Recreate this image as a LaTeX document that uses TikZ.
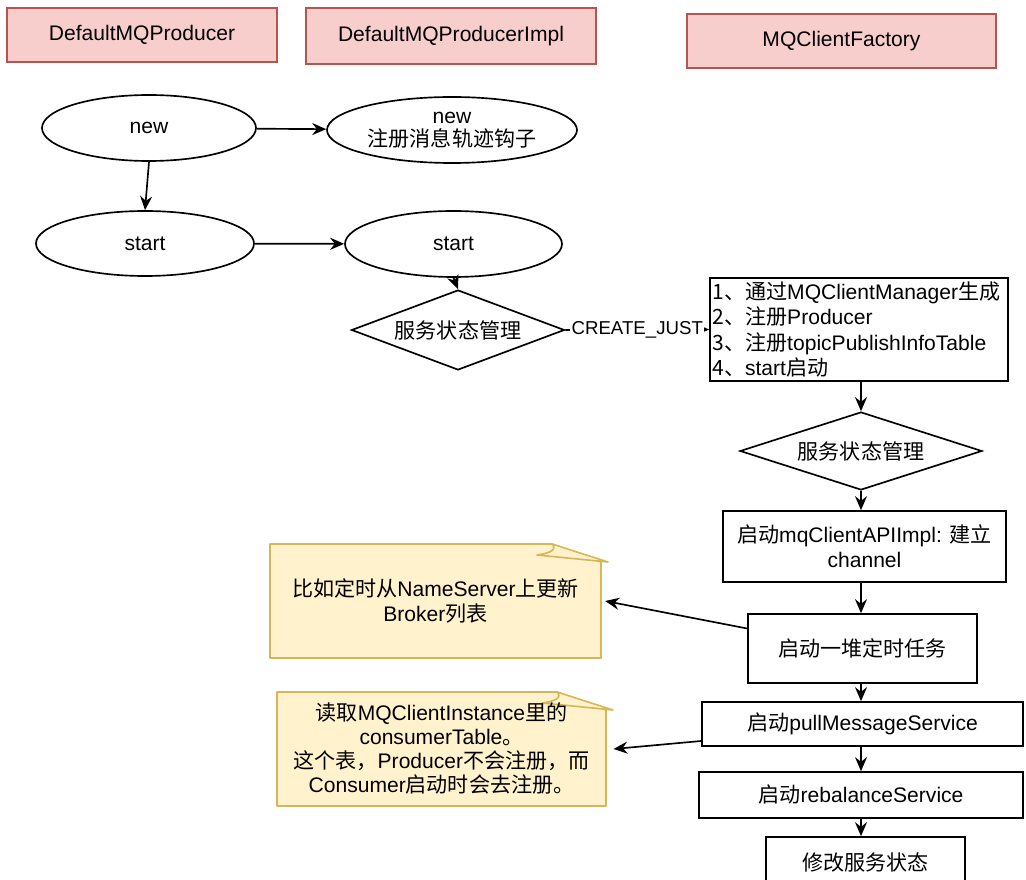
\documentclass[tikz,border=0pt]{standalone}
\usepackage{fontspec}
\setmainfont{Liberation Sans}
\newfontfamily\cjk{Noto Sans CJK SC}
\newcommand\zh[1]{{\cjk #1}}
\usetikzlibrary{shapes.geometric,arrows.meta}

\definecolor{hdrfill}{HTML}{F8CECC}
\definecolor{hdrline}{HTML}{B85450}
\definecolor{memofill}{HTML}{FFF2CC}
\definecolor{memoline}{HTML}{D6B656}

\tikzset{
  base/.style={font=\fontsize{15.8}{18.6}\selectfont, line width=1.25pt},
  hdr/.style={rectangle, draw=hdrline, fill=hdrfill, line width=1.5pt, inner sep=0pt},
  oval/.style={ellipse, draw, inner sep=0pt, align=center},
  gate/.style={diamond, draw, inner sep=0pt},
  stepbox/.style={rectangle, draw, inner sep=0pt, align=center},
  memo/.style={rectangle, inner sep=0pt, align=center},
  memoshape/.style={draw=memoline, fill=memofill, line width=1.2pt, line join=round},
  arr/.style={-{Stealth[length=10.5pt,width=9pt,inset=3.5pt]}, line width=1.25pt},
}

\begin{document}
\begin{tikzpicture}[x=0.75pt,y=-0.75pt,base]
\useasboundingbox (0,0) rectangle (1026,880);
\clip (0,0) rectangle (1026,880);

% column headers
\node[hdr, minimum width=202.5pt, minimum height=40.5pt] (h1) at (142,35) {DefaultMQProducer};
\node[hdr, minimum width=217.5pt, minimum height=42pt] (h2) at (451,36) {DefaultMQProducerImpl};
\node[hdr, minimum width=231.75pt, minimum height=40.5pt] (h3) at (841.5,41) {MQClientFactory};

% producer construction and start
\node[oval, minimum width=160.5pt, minimum height=49.5pt] (newA) at (149,128) {new};
\node[oval, minimum width=187.5pt, minimum height=49.5pt] (newB) at (452,130) {new\\[-1pt]\zh{注册消息轨迹钩子}};
\node[oval, minimum width=163.5pt, minimum height=48.75pt] (startA) at (145,243.5) {start};
\node[oval, minimum width=162.75pt, minimum height=49.5pt] (startB) at (453.5,244) {start};

\node[gate, shape aspect=2.66, minimum width=159.75pt, minimum height=60pt] (stateA) at (458,330) {\zh{服务状态管理}};

\node[stepbox, minimum width=223.5pt, minimum height=77.25pt, align=left, text width=220pt,
      font=\fontsize{15.8}{18.8}\selectfont] (init) at (859,329.5)
  {\zh{1、通过}MQClientManager\zh{生成}\\\zh{2、注册}Producer\\\zh{3、注册}topicPublishInfoTable\\\zh{4、}start\zh{启动}};

% client factory start sequence
\node[gate, shape aspect=3.1, minimum width=181.5pt, minimum height=58.5pt] (stateB) at (861,451) {\zh{服务状态管理}};
\node[stepbox, minimum width=212.25pt, minimum height=53.25pt] (api) at (864.5,546.5) {\zh{启动}mqClientAPIImpl: \zh{建立}\\channel};
\node[stepbox, minimum width=171.75pt, minimum height=51.75pt] (tasks) at (862.5,648.5) {\zh{启动一堆定时任务}};
\node[stepbox, minimum width=240.75pt, minimum height=33pt] (pull) at (862.5,724) {\zh{启动}pullMessageService};
\node[stepbox, minimum width=243pt, minimum height=34.5pt] (rebal) at (861,795) {\zh{启动}rebalanceService};
\node[stepbox, minimum width=149.25pt, minimum height=37.5pt] (done) at (865.5,862) {\zh{修改服务状态}};

% notes with folded corner
\draw[memoshape] (270,544) -- (552,544) -- (601,562) -- (601,658) -- (270,658) -- cycle;
\draw[memoshape] (552,544) -- (608,562) -- (537,555) .. controls (552,553) and (557,549) .. (552,544);
\node[memo, minimum width=248.25pt, minimum height=85.5pt] (memoA) at (435.5,601)
  {\zh{比如定时从}NameServer\zh{上更新}\\Broker\zh{列表}};

\draw[memoshape] (277,692) -- (557,692) -- (606,710) -- (606,806) -- (277,806) -- cycle;
\draw[memoshape] (557,692) -- (613,710) -- (542,703) .. controls (557,701) and (562,697) .. (557,692);
\node[memo, minimum width=246.75pt, minimum height=85.5pt, font=\fontsize{15.8}{18}\selectfont] (memoB) at (441.5,749)
  {\zh{读取}MQClientInstance\zh{里的}\\consumerTable\zh{。}\\\zh{这个表，}Producer\zh{不会注册，而}\\Consumer\zh{启动时会去注册。}};

% connectors
\draw[arr] (newA) -- (newB);
\draw[arr] (newA.south) -- (startA.north);
\draw[arr] (startA) -- (startB);
\draw[arr] (startB.south) -- (stateA.north);
\draw[arr] (stateA.east) -- (init.west)
  node[midway, fill=white, inner sep=1pt, font=\fontsize{14}{16}\selectfont] {CREATE\_JUST};
\draw[arr] (stateB.north |- init.south) -- (stateB.north);
\draw[arr] (stateB.south) -- (stateB.south |- api.north);
\draw[arr] (stateB.south |- api.south) -- (stateB.south |- tasks.north);
\draw[arr] (stateB.south |- tasks.south) -- (stateB.south |- pull.north);
\draw[arr] (stateB.south |- pull.south) -- (stateB.south |- rebal.north);
\draw[arr] (stateB.south |- rebal.south) -- (stateB.south |- done.north);
\draw[arr] ([yshift=15pt]tasks.west) -- ([xshift=2.5pt]memoA.east);
\draw[arr] ([yshift=-12.75pt]pull.west) -- ([xshift=5pt]memoB.east);
\end{tikzpicture}
\end{document}
